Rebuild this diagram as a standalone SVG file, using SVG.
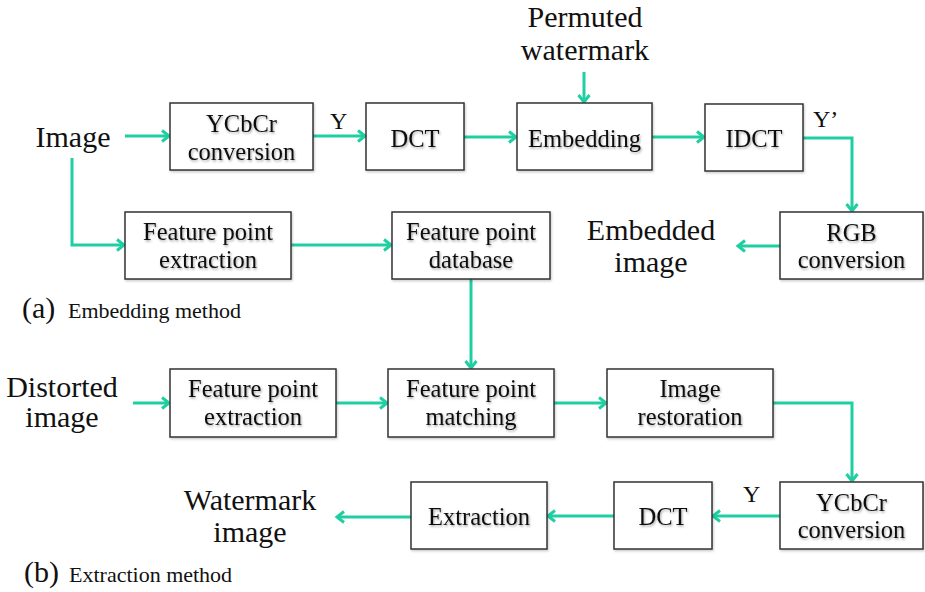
<svg xmlns="http://www.w3.org/2000/svg" width="925" height="592" viewBox="0 0 925 592">
<defs>
<style>
text{font-family:'Liberation Serif','Tinos','DejaVu Serif',serif;fill:#111}
.box{fill:#fff;stroke:#333;stroke-width:1.5;filter:url(#bs)}
.t{font-size:24.5px;text-anchor:middle;filter:url(#ts)}
.big{font-size:30px;text-anchor:middle}
.lbl{font-size:24px}
.cap{font-size:30px}
.capS{font-size:22px}
.c{fill:none;stroke:#1fcfa2;stroke-width:3;marker-end:url(#ah)}
</style>
<filter id="ts" x="-10%" y="-30%" width="120%" height="160%">
<feDropShadow dx="1" dy="1.5" stdDeviation="1" flood-color="#000" flood-opacity="0.35"/>
</filter>
<filter id="bs" x="-5%" y="-10%" width="110%" height="125%">
<feDropShadow dx="1" dy="1.5" stdDeviation="1" flood-color="#000" flood-opacity="0.2"/>
</filter>
<marker id="ah" markerWidth="12" markerHeight="14" refX="9" refY="7" orient="auto" markerUnits="userSpaceOnUse">
<path d="M2,1.5 L9,7 L2,12.5" fill="none" stroke="#1fcfa2" stroke-width="3"/>
</marker>
</defs>

<g id="connectors">
<path class="c" d="M125,136 H169"/>
<path class="c" d="M313,136 H365"/>
<path class="c" d="M464,137 H516"/>
<path class="c" d="M584,72 V102"/>
<path class="c" d="M652,137 H704"/>
<path class="c" d="M803,138 H852 V211"/>
<path class="c" d="M780,246 H738"/>
<path class="c" d="M72,158 V245 H124"/>
<path class="c" d="M291,245 H391"/>
<path class="c" d="M471,279 V368"/>
<path class="c" d="M133,403 H169"/>
<path class="c" d="M336,403 H387"/>
<path class="c" d="M554,403 H606"/>
<path class="c" d="M773,403 H852 V481"/>
<path class="c" d="M780,516 H713"/>
<path class="c" d="M614,516 H548"/>
<path class="c" d="M411,517 H337"/>
</g>

<g id="image-in"><text class="big" x="73" y="147">Image</text></g>
<g id="permuted-watermark"><text class="big" x="585" y="27">Permuted</text><text class="big" x="585" y="60">watermark</text></g>

<g id="ycbcr-a"><rect class="box" x="170" y="103" width="143" height="67"/><text class="t" x="241.5" y="132">YCbCr</text><text class="t" x="241.5" y="160">conversion</text></g>
<g id="label-y-a"><text class="lbl" x="330" y="129">Y</text></g>
<g id="dct-a"><rect class="box" x="366" y="103" width="98" height="67"/><text class="t" x="415" y="147">DCT</text></g>
<g id="embedding"><rect class="box" x="517" y="103" width="135" height="67"/><text class="t" x="584.5" y="147">Embedding</text></g>
<g id="idct"><rect class="box" x="705" y="104" width="98" height="67"/><text class="t" x="754" y="147">IDCT</text></g>
<g id="label-y-prime"><text class="lbl" x="813" y="127">Y’</text></g>
<g id="rgb"><rect class="box" x="780" y="212" width="143" height="67"/><text class="t" x="851.5" y="241">RGB</text><text class="t" x="851.5" y="268">conversion</text></g>
<g id="embedded-image"><text class="big" x="651" y="240">Embedded</text><text class="big" x="651" y="272">image</text></g>
<g id="fpe-a"><rect class="box" x="125" y="212" width="166" height="67"/><text class="t" x="208" y="240">Feature point</text><text class="t" x="208" y="268">extraction</text></g>
<g id="fp-database"><rect class="box" x="392" y="212" width="158" height="67"/><text class="t" x="471" y="240">Feature point</text><text class="t" x="471" y="268">database</text></g>
<g id="caption-a"><text class="cap" x="22" y="318">(a)</text><text class="capS" x="68" y="318">Embedding method</text></g>

<g id="distorted-image"><text class="big" x="62" y="397">Distorted</text><text class="big" x="62" y="427">image</text></g>
<g id="fpe-b"><rect class="box" x="170" y="369" width="166" height="68"/><text class="t" x="253" y="397">Feature point</text><text class="t" x="253" y="425">extraction</text></g>
<g id="fp-matching"><rect class="box" x="388" y="369" width="166" height="68"/><text class="t" x="471" y="397">Feature point</text><text class="t" x="471" y="425">matching</text></g>
<g id="image-restoration"><rect class="box" x="607" y="369" width="166" height="68"/><text class="t" x="690" y="397">Image</text><text class="t" x="690" y="425">restoration</text></g>
<g id="ycbcr-b"><rect class="box" x="780" y="482" width="143" height="67"/><text class="t" x="851.5" y="511">YCbCr</text><text class="t" x="851.5" y="538">conversion</text></g>
<g id="label-y-b"><text class="lbl" x="743" y="502">Y</text></g>
<g id="dct-b"><rect class="box" x="614" y="482" width="98" height="67"/><text class="t" x="663" y="525">DCT</text></g>
<g id="extraction"><rect class="box" x="411" y="482" width="136" height="67"/><text class="t" x="479" y="525">Extraction</text></g>
<g id="watermark-image"><text class="big" x="250" y="510">Watermark</text><text class="big" x="250" y="542">image</text></g>
<g id="caption-b"><text class="cap" x="24" y="582">(b)</text><text class="capS" x="69" y="582">Extraction method</text></g>
</svg>
